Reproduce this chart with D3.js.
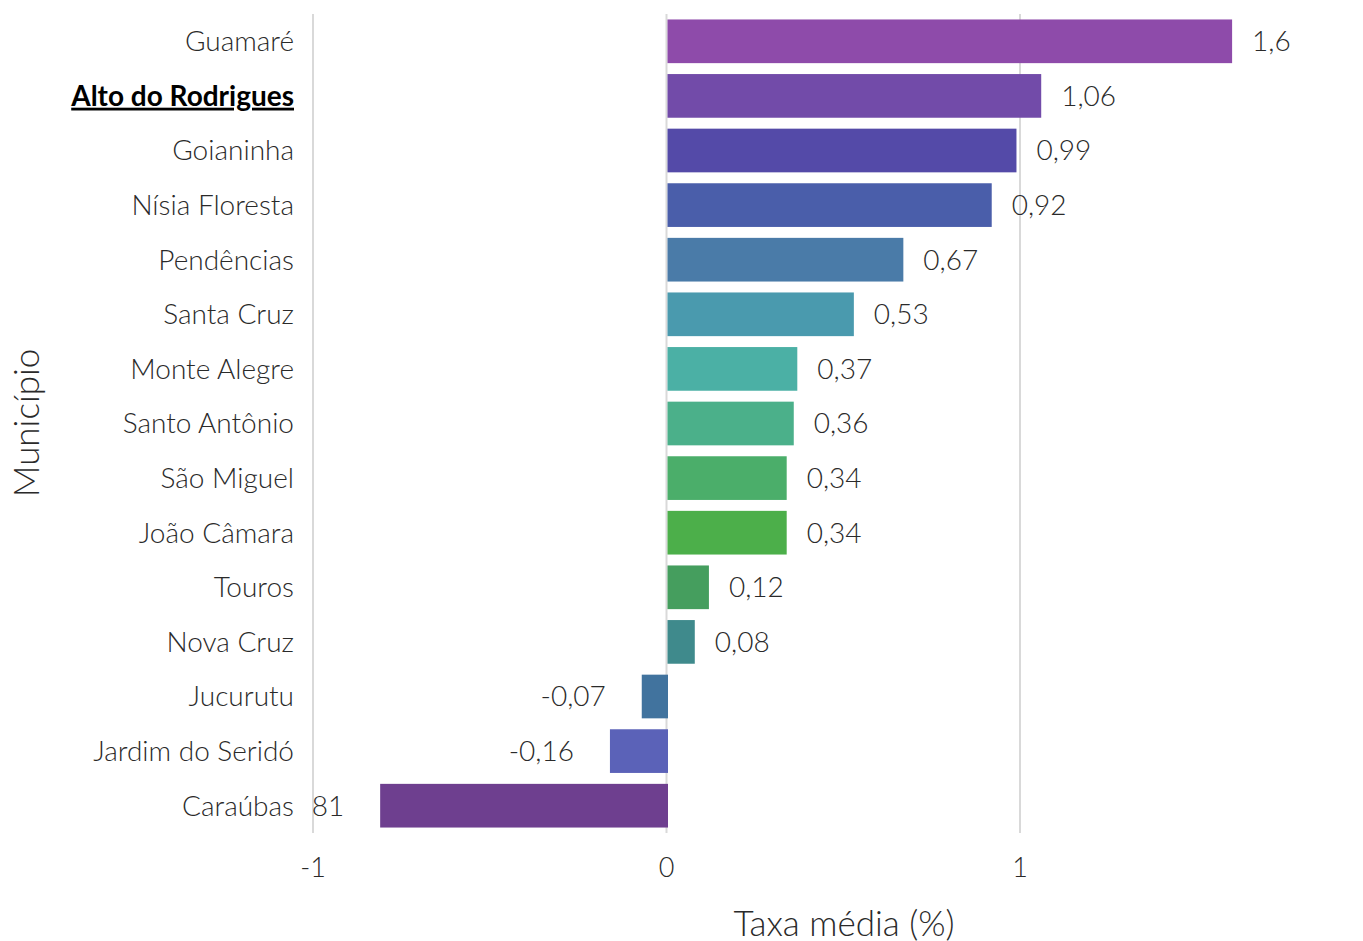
<!DOCTYPE html>
<html>
<head>
<meta charset="utf-8">
<script src="https://cdn.jsdelivr.net/npm/d3@7"></script>
<style>
  html, body { margin: 0; padding: 0; background: #fff; }
  svg { display: block; font-family: Lato, "Noto Sans", sans-serif; }
</style>
</head>
<body>
<svg id="chart" width="1363" height="941"></svg>
<script>
const categories = ["Guamaré", "Alto do Rodrigues", "Goianinha", "Nísia Floresta", "Pendências",
  "Santa Cruz", "Monte Alegre", "Santo Antônio", "São Miguel", "João Câmara",
  "Touros", "Nova Cruz", "Jucurutu", "Jardim do Seridó", "Caraúbas"];
const values = [1.6, 1.06, 0.99, 0.92, 0.67, 0.53, 0.37, 0.36, 0.34, 0.34, 0.12, 0.08, -0.07, -0.16, -0.81];
const highlighted = "Alto do Rodrigues";
const xTicks = [-1, 0, 1];
const xTitle = "Taxa média (%)";
const yTitle = "Município";

const palette = ["#8e4baa", "#724ba9", "#544aa8", "#4a5eaa", "#4a7ba8", "#4a9aae", "#4bb0a5",
  "#4bb08a", "#4bae6a", "#4caf4a", "#459e5e", "#3f8a8c", "#41739e", "#5b62b8", "#6e3f8f"];

const svg = d3.select("#chart");
const plot = { left: 313, right: 1373, top: 14, bottom: 833 };

const x = d3.scaleLinear().domain([-1, 1]).range([313, 1020]);
const y = d3.scaleBand().domain(categories).range([plot.top, plot.bottom]).paddingInner(0.2).paddingOuter(0.1);

const fmt = v => String(v).replace(".", ",");

svg.append("defs").append("clipPath").attr("id", "plotclip")
  .append("rect").attr("x", plot.left).attr("y", 0).attr("width", plot.right - plot.left).attr("height", 941);

// gridlines
svg.append("g").selectAll("line").data(xTicks).join("line")
  .attr("x1", d => x(d)).attr("x2", d => x(d))
  .attr("y1", plot.top).attr("y2", plot.bottom)
  .attr("stroke", "#d9d9d9").attr("stroke-width", 2);

// bars
svg.append("g").selectAll("rect").data(values).join("rect")
  .attr("x", d => d >= 0 ? x(0) + 1 : x(d))
  .attr("width", d => d >= 0 ? x(d) - x(0) - 1 : x(0) + 1.5 - x(d))
  .attr("y", (d, i) => y(categories[i]))
  .attr("height", y.bandwidth())
  .attr("fill", (d, i) => palette[i]);

// value labels
svg.append("g").attr("clip-path", "url(#plotclip)").selectAll("text").data(values).join("text")
  .attr("x", d => d >= 0 ? x(d) + 20 : x(d) - 36)
  .attr("y", (d, i) => y(categories[i]) + y.bandwidth() / 2)
  .attr("dy", "0.35em")
  .attr("text-anchor", d => d >= 0 ? "start" : "end")
  .attr("font-size", 28).attr("font-weight", 300).attr("fill", "#2a2a2a")
  .text(d => fmt(d));

// category labels
svg.append("g").selectAll("text").data(categories).join("text")
  .attr("x", 294)
  .attr("y", d => y(d) + y.bandwidth() / 2)
  .attr("dy", "0.35em")
  .attr("text-anchor", "end")
  .attr("font-size", 28)
  .attr("font-weight", d => d === highlighted ? 700 : 300)
  .attr("fill", d => d === highlighted ? "#000" : "#2a2a2a")
  .attr("text-decoration", d => d === highlighted ? "underline" : null)
  .text(d => d);

// x tick labels
svg.append("g").selectAll("text").data(xTicks).join("text")
  .attr("x", d => x(d)).attr("y", 868).attr("dy", "0.35em")
  .attr("text-anchor", "middle")
  .attr("font-size", 27).attr("font-weight", 300).attr("fill", "#2a2a2a")
  .text(d => String(d));

// axis titles
svg.append("text").attr("x", 844).attr("y", 936)
  .attr("text-anchor", "middle").attr("font-size", 35).attr("font-weight", 300).attr("fill", "#2a2a2a")
  .text(xTitle);

svg.append("text").attr("transform", "translate(39,423) rotate(-90)")
  .attr("text-anchor", "middle").attr("font-size", 35).attr("font-weight", 300).attr("fill", "#2a2a2a")
  .text(yTitle);
</script>
</body>
</html>
